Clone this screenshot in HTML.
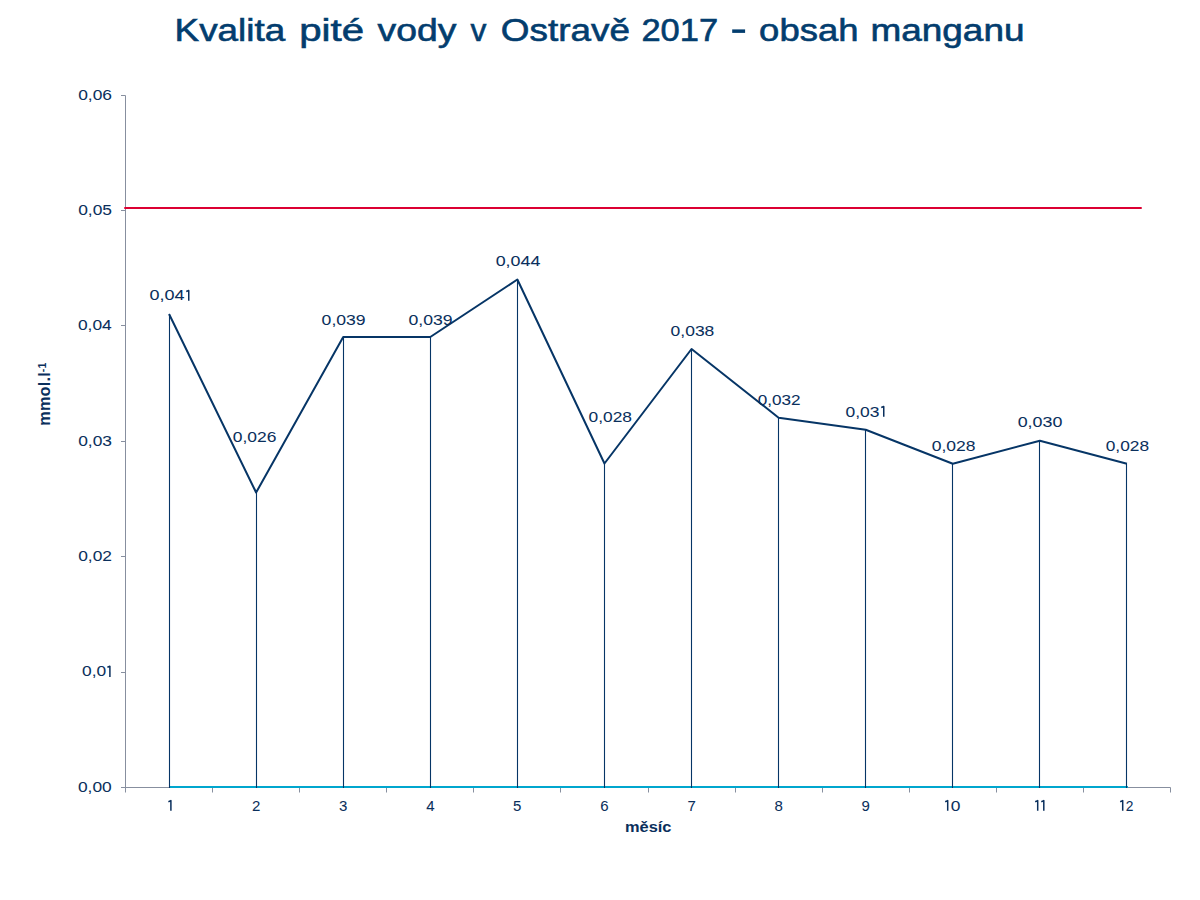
<!DOCTYPE html>
<html><head><meta charset="utf-8"><style>
html,body{margin:0;padding:0;background:#fff;width:1200px;height:900px;overflow:hidden}
svg{display:block}
text{font-family:"Liberation Sans",sans-serif}
.t{font-size:15.0px;fill:#0a2f5c;stroke:#0a2f5c;stroke-width:0.05px}
.b{font-size:15.5px;font-weight:bold;fill:#0a2f5c}
.title{font-size:31px;fill:#033d6e;stroke:#033d6e;stroke-width:0.6px}
</style></head><body>
<svg width="1200" height="900" viewBox="0 0 1200 900">
<path d="M121 95.5H125.5V792.5" stroke="#878f9f" stroke-width="1" fill="none"/>
<path d="M121 210.5H125.5" stroke="#878f9f" stroke-width="1"/>
<path d="M121 325.5H125.5" stroke="#878f9f" stroke-width="1"/>
<path d="M121 441.5H125.5" stroke="#878f9f" stroke-width="1"/>
<path d="M121 556.5H125.5" stroke="#878f9f" stroke-width="1"/>
<path d="M121 672.5H125.5" stroke="#878f9f" stroke-width="1"/>
<path d="M121 787.5H125.5" stroke="#878f9f" stroke-width="1"/>
<path d="M125.5 787.5H1170.5V792.5" stroke="#878f9f" stroke-width="1" fill="none"/>
<path d="M212.5 787.5V792.5" stroke="#878f9f" stroke-width="1"/>
<path d="M299.5 787.5V792.5" stroke="#878f9f" stroke-width="1"/>
<path d="M386.5 787.5V792.5" stroke="#878f9f" stroke-width="1"/>
<path d="M473.5 787.5V792.5" stroke="#878f9f" stroke-width="1"/>
<path d="M560.5 787.5V792.5" stroke="#878f9f" stroke-width="1"/>
<path d="M648.5 787.5V792.5" stroke="#878f9f" stroke-width="1"/>
<path d="M735.5 787.5V792.5" stroke="#878f9f" stroke-width="1"/>
<path d="M822.5 787.5V792.5" stroke="#878f9f" stroke-width="1"/>
<path d="M909.5 787.5V792.5" stroke="#878f9f" stroke-width="1"/>
<path d="M996.5 787.5V792.5" stroke="#878f9f" stroke-width="1"/>
<path d="M1083.5 787.5V792.5" stroke="#878f9f" stroke-width="1"/>
<path d="M125.1 208H1140.9" stroke="#dc0032" stroke-width="2.2" stroke-linecap="round"/>
<path d="M169.04 787H1127.96" stroke="#00a6ce" stroke-width="2"/>
<path d="M169.5 314V788" stroke="#063566" stroke-width="1.1"/>
<path d="M256.5 492.5V788" stroke="#063566" stroke-width="1.1"/>
<path d="M343.5 337V788" stroke="#063566" stroke-width="1.1"/>
<path d="M430.5 337V788" stroke="#063566" stroke-width="1.1"/>
<path d="M517.5 279.5V788" stroke="#063566" stroke-width="1.1"/>
<path d="M604.5 463.5V788" stroke="#063566" stroke-width="1.1"/>
<path d="M691.5 349V788" stroke="#063566" stroke-width="1.1"/>
<path d="M778.5 417.7V788" stroke="#063566" stroke-width="1.1"/>
<path d="M865.5 429.8V788" stroke="#063566" stroke-width="1.1"/>
<path d="M952.5 463.7V788" stroke="#063566" stroke-width="1.1"/>
<path d="M1039.5 440.7V788" stroke="#063566" stroke-width="1.1"/>
<path d="M1126.5 463.7V788" stroke="#063566" stroke-width="1.1"/>
<polyline points="169.04,314 256.12,492.5 343.21,337 430.29,337 517.38,279.5 604.46,463.5 691.54,349 778.62,417.7 865.71,429.8 952.79,463.7 1039.88,440.7 1126.96,463.7" fill="none" stroke="#063566" stroke-width="2.0" stroke-linejoin="round" stroke-linecap="butt"/>
<text x="149.45" y="300.45" class="t" textLength="35.04" lengthAdjust="spacingAndGlyphs">0,04</text>
<text x="232.72" y="442.45" class="t" textLength="43.62" lengthAdjust="spacingAndGlyphs">0,026</text>
<text x="321.61" y="324.70" class="t" textLength="44.02" lengthAdjust="spacingAndGlyphs">0,039</text>
<text x="408.46" y="324.70" class="t" textLength="44.08" lengthAdjust="spacingAndGlyphs">0,039</text>
<text x="495.71" y="266.45" class="t" textLength="44.65" lengthAdjust="spacingAndGlyphs">0,044</text>
<text x="588.62" y="421.50" class="t" textLength="43.41" lengthAdjust="spacingAndGlyphs">0,028</text>
<text x="670.62" y="335.60" class="t" textLength="43.72" lengthAdjust="spacingAndGlyphs">0,038</text>
<text x="757.73" y="404.70" class="t" textLength="42.88" lengthAdjust="spacingAndGlyphs">0,032</text>
<text x="845.47" y="417.20" class="t" textLength="33.95" lengthAdjust="spacingAndGlyphs">0,03</text>
<text x="931.72" y="450.95" class="t" textLength="43.83" lengthAdjust="spacingAndGlyphs">0,028</text>
<text x="1017.71" y="427.40" class="t" textLength="44.65" lengthAdjust="spacingAndGlyphs">0,030</text>
<text x="1105.72" y="450.70" class="t" textLength="43.31" lengthAdjust="spacingAndGlyphs">0,028</text>
<text x="174.63" y="40.50" class="title" textLength="110.59" lengthAdjust="spacingAndGlyphs">Kvalita</text>
<text x="299.28" y="40.50" class="title" textLength="64.79" lengthAdjust="spacingAndGlyphs">pité</text>
<text x="377.60" y="40.50" class="title" textLength="78.77" lengthAdjust="spacingAndGlyphs">vody</text>
<text x="470.56" y="40.50" class="title" textLength="15.89" lengthAdjust="spacingAndGlyphs">v</text>
<text x="500.81" y="40.50" class="title" textLength="129.11" lengthAdjust="spacingAndGlyphs">Ostravě</text>
<text x="641.41" y="40.50" class="title" textLength="76.64" lengthAdjust="spacingAndGlyphs">2017</text>
<text x="759.12" y="40.50" class="title" textLength="99.35" lengthAdjust="spacingAndGlyphs">obsah</text>
<text x="870.46" y="40.50" class="title" textLength="154.06" lengthAdjust="spacingAndGlyphs">manganu</text>
<text x="625.04" y="831.70" class="b" textLength="46.43" lengthAdjust="spacingAndGlyphs">měsíc</text>
<text x="78.22" y="99.70" class="t" textLength="33.79" lengthAdjust="spacingAndGlyphs">0,06</text>
<text x="78.22" y="215.03" class="t" textLength="33.79" lengthAdjust="spacingAndGlyphs">0,05</text>
<text x="77.93" y="330.36" class="t" textLength="33.79" lengthAdjust="spacingAndGlyphs">0,04</text>
<text x="78.22" y="445.69" class="t" textLength="33.79" lengthAdjust="spacingAndGlyphs">0,03</text>
<text x="78.22" y="561.02" class="t" textLength="33.79" lengthAdjust="spacingAndGlyphs">0,02</text>
<text x="82.07" y="676.35" class="t" textLength="24.14" lengthAdjust="spacingAndGlyphs">0,0</text>
<text x="77.93" y="791.68" class="t" textLength="33.79" lengthAdjust="spacingAndGlyphs">0,00</text>
<path d="M186.25 291.55L188.75 290.45V300.75" fill="none" stroke="#0a2f5c" stroke-width="1.5" stroke-linejoin="round"/>
<path d="M881.25 407.55L883.75 406.45V416.75" fill="none" stroke="#0a2f5c" stroke-width="1.5" stroke-linejoin="round"/>
<path d="M107.40 667.30L109.90 666.20V676.90" fill="none" stroke="#0a2f5c" stroke-width="1.5" stroke-linejoin="round"/>
<path d="M168.40 801.70L170.90 800.60V810.80" fill="none" stroke="#0a2f5c" stroke-width="1.5" stroke-linejoin="round"/>
<text x="252.00" y="810.6" class="t">2</text>
<text x="339.08" y="810.6" class="t">3</text>
<text x="426.17" y="810.6" class="t">4</text>
<text x="513.12" y="810.6" class="t">5</text>
<text x="600.21" y="810.6" class="t">6</text>
<text x="687.42" y="810.6" class="t">7</text>
<text x="774.38" y="810.6" class="t">8</text>
<text x="861.46" y="810.6" class="t">9</text>
<path d="M945.20 801.70L947.70 800.60V810.80" fill="none" stroke="#0a2f5c" stroke-width="1.5" stroke-linejoin="round"/>
<text x="950.72" y="810.6" class="t" textLength="9.66" lengthAdjust="spacingAndGlyphs">0</text>
<path d="M1035.20 801.70L1037.70 800.60V810.80" fill="none" stroke="#0a2f5c" stroke-width="1.5" stroke-linejoin="round"/>
<path d="M1041.30 801.70L1043.80 800.60V810.80" fill="none" stroke="#0a2f5c" stroke-width="1.5" stroke-linejoin="round"/>
<path d="M1120.20 801.70L1122.70 800.60V810.80" fill="none" stroke="#0a2f5c" stroke-width="1.5" stroke-linejoin="round"/>
<text x="1125.71" y="810.6" class="t" textLength="7.66" lengthAdjust="spacingAndGlyphs">2</text>
<text transform="translate(50.2,425.8) rotate(-90)" class="b" style="font-size:16.3px;letter-spacing:0.2px">mmol.l<tspan dy="-4.5" font-size="10.5">-1</tspan></text>
<rect x="732.2" y="29.4" width="12.9" height="3.5" fill="#033d6e"/>
</svg>
</body></html>
